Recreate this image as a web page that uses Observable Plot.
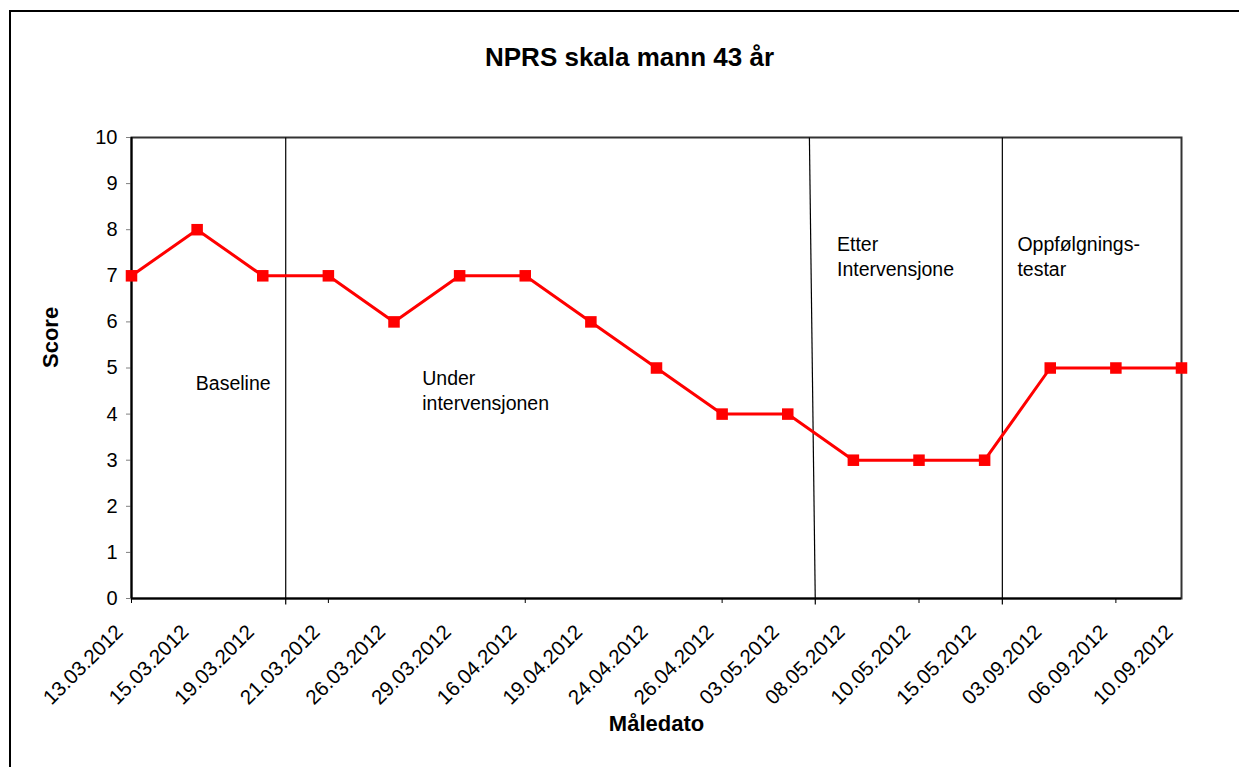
<!DOCTYPE html>
<html><head><meta charset="utf-8">
<script src="https://cdn.jsdelivr.net/npm/d3@7"></script>
<script src="https://cdn.jsdelivr.net/npm/@observablehq/plot@0.6"></script>
<style>
html,body{margin:0;padding:0;background:#fff;overflow:hidden;width:1239px;height:767px;}
#chart{position:absolute;left:0;top:0;}
#outer{position:absolute;left:9px;top:10px;width:1400px;height:900px;border-left:2.5px solid #000;border-top:2.5px solid #000;z-index:2;pointer-events:none;}
</style></head><body>
<div id="chart"></div><div id="outer"></div>
<script>
const title = "NPRS skala mann 43 år";
const yLabel = "Score";
const xLabel = "Måledato";
const dates = ["13.03.2012","15.03.2012","19.03.2012","21.03.2012","26.03.2012","29.03.2012","16.04.2012","19.04.2012","24.04.2012","26.04.2012","03.05.2012","08.05.2012","10.05.2012","15.05.2012","03.09.2012","06.09.2012","10.09.2012"];
const scores = [7,8,7,7,6,7,7,6,5,4,4,3,3,3,5,5,5];
const yTicks = [0,1,2,3,4,5,6,7,8,9,10];
const xTickMarks = [0,3,6,9,12,15];
// phase divider lines (category-index positions)
const phaseTopX = [2.35, 10.33, 13.27];
const phaseBottomX = [2.35, 10.42, 13.27];
const phaseTopY = 10;
const phaseBottomY = -0.13;
const phaseLabels = ["Baseline","Under\nintervensjonen","Etter\nIntervensjone","Oppfølgnings-\ntestar"];
const phaseLabelX = [0.98, 4.43, 10.75, 13.5];
const phaseLabelY = [4.69, 4.53, 7.44, 7.44];

const data = dates.map((d, i) => ({i, date: d, score: scores[i]}));
const phases = phaseTopX.map((t, i) => ({top: t, bottom: phaseBottomX[i]}));

const plot = Plot.plot({
  width: 1239, height: 767,
  marginLeft: 131, marginRight: 58, marginTop: 137, marginBottom: 169,
  style: {fontFamily: "'Liberation Sans', Arial, sans-serif", fontSize: "19px", color: "#000", background: "none", overflow: "visible"},
  x: {type: "linear", domain: [0, 16]},
  y: {domain: [0, 10]},
  marks: [
    Plot.frame({stroke: "#333", strokeWidth: 2}),
    Plot.link(phases, {x1: "top", x2: "bottom", y1: () => phaseTopY, y2: () => phaseBottomY, stroke: "#000", strokeWidth: 1.2}),
    Plot.axisY({ticks: yTicks, tickSize: 5, tickPadding: 9, tickFormat: d => String(d), label: null, stroke: "#808080", fontSize: 20}),
    Plot.axisX({ticks: xTickMarks, tickSize: 5, tickFormat: () => "", label: null, stroke: "#000"}),
    Plot.axisX({ticks: d3.range(dates.length), tickSize: 0, tickPadding: 30, dx: -12, tickRotate: -45, tickFormat: i => dates[i], label: null, fontSize: 20.5}),
    Plot.ruleX([0], {stroke: "#000", strokeWidth: 2}),
    Plot.ruleY([0], {stroke: "#000", strokeWidth: 2}),
    Plot.line(data, {x: "i", y: "score", stroke: "#ff0000", strokeWidth: 3}),
    Plot.dot(data, {x: "i", y: "score", symbol: "square", r: 6.5, fill: "#ff0000", stroke: "none"}),
    Plot.text(phaseLabels, {x: (d, i) => phaseLabelX[i], y: (d, i) => phaseLabelY[i], text: d => d, textAnchor: "start", lineHeight: 1.3, fontSize: 19.5, fill: "#000"}),
    Plot.text([title], {text: d => d, frameAnchor: "top", lineAnchor: "middle", dx: -27, dy: -80, fontWeight: "bold", fontSize: 26}),
    Plot.text([yLabel], {text: d => d, frameAnchor: "left", lineAnchor: "middle", rotate: -90, dx: -81, fontWeight: "bold", fontSize: 22}),
    Plot.text([xLabel], {text: d => d, frameAnchor: "bottom", lineAnchor: "middle", dy: 125, fontWeight: "bold", fontSize: 22})
  ]
});
document.getElementById("chart").appendChild(plot);
</script>
</body></html>
